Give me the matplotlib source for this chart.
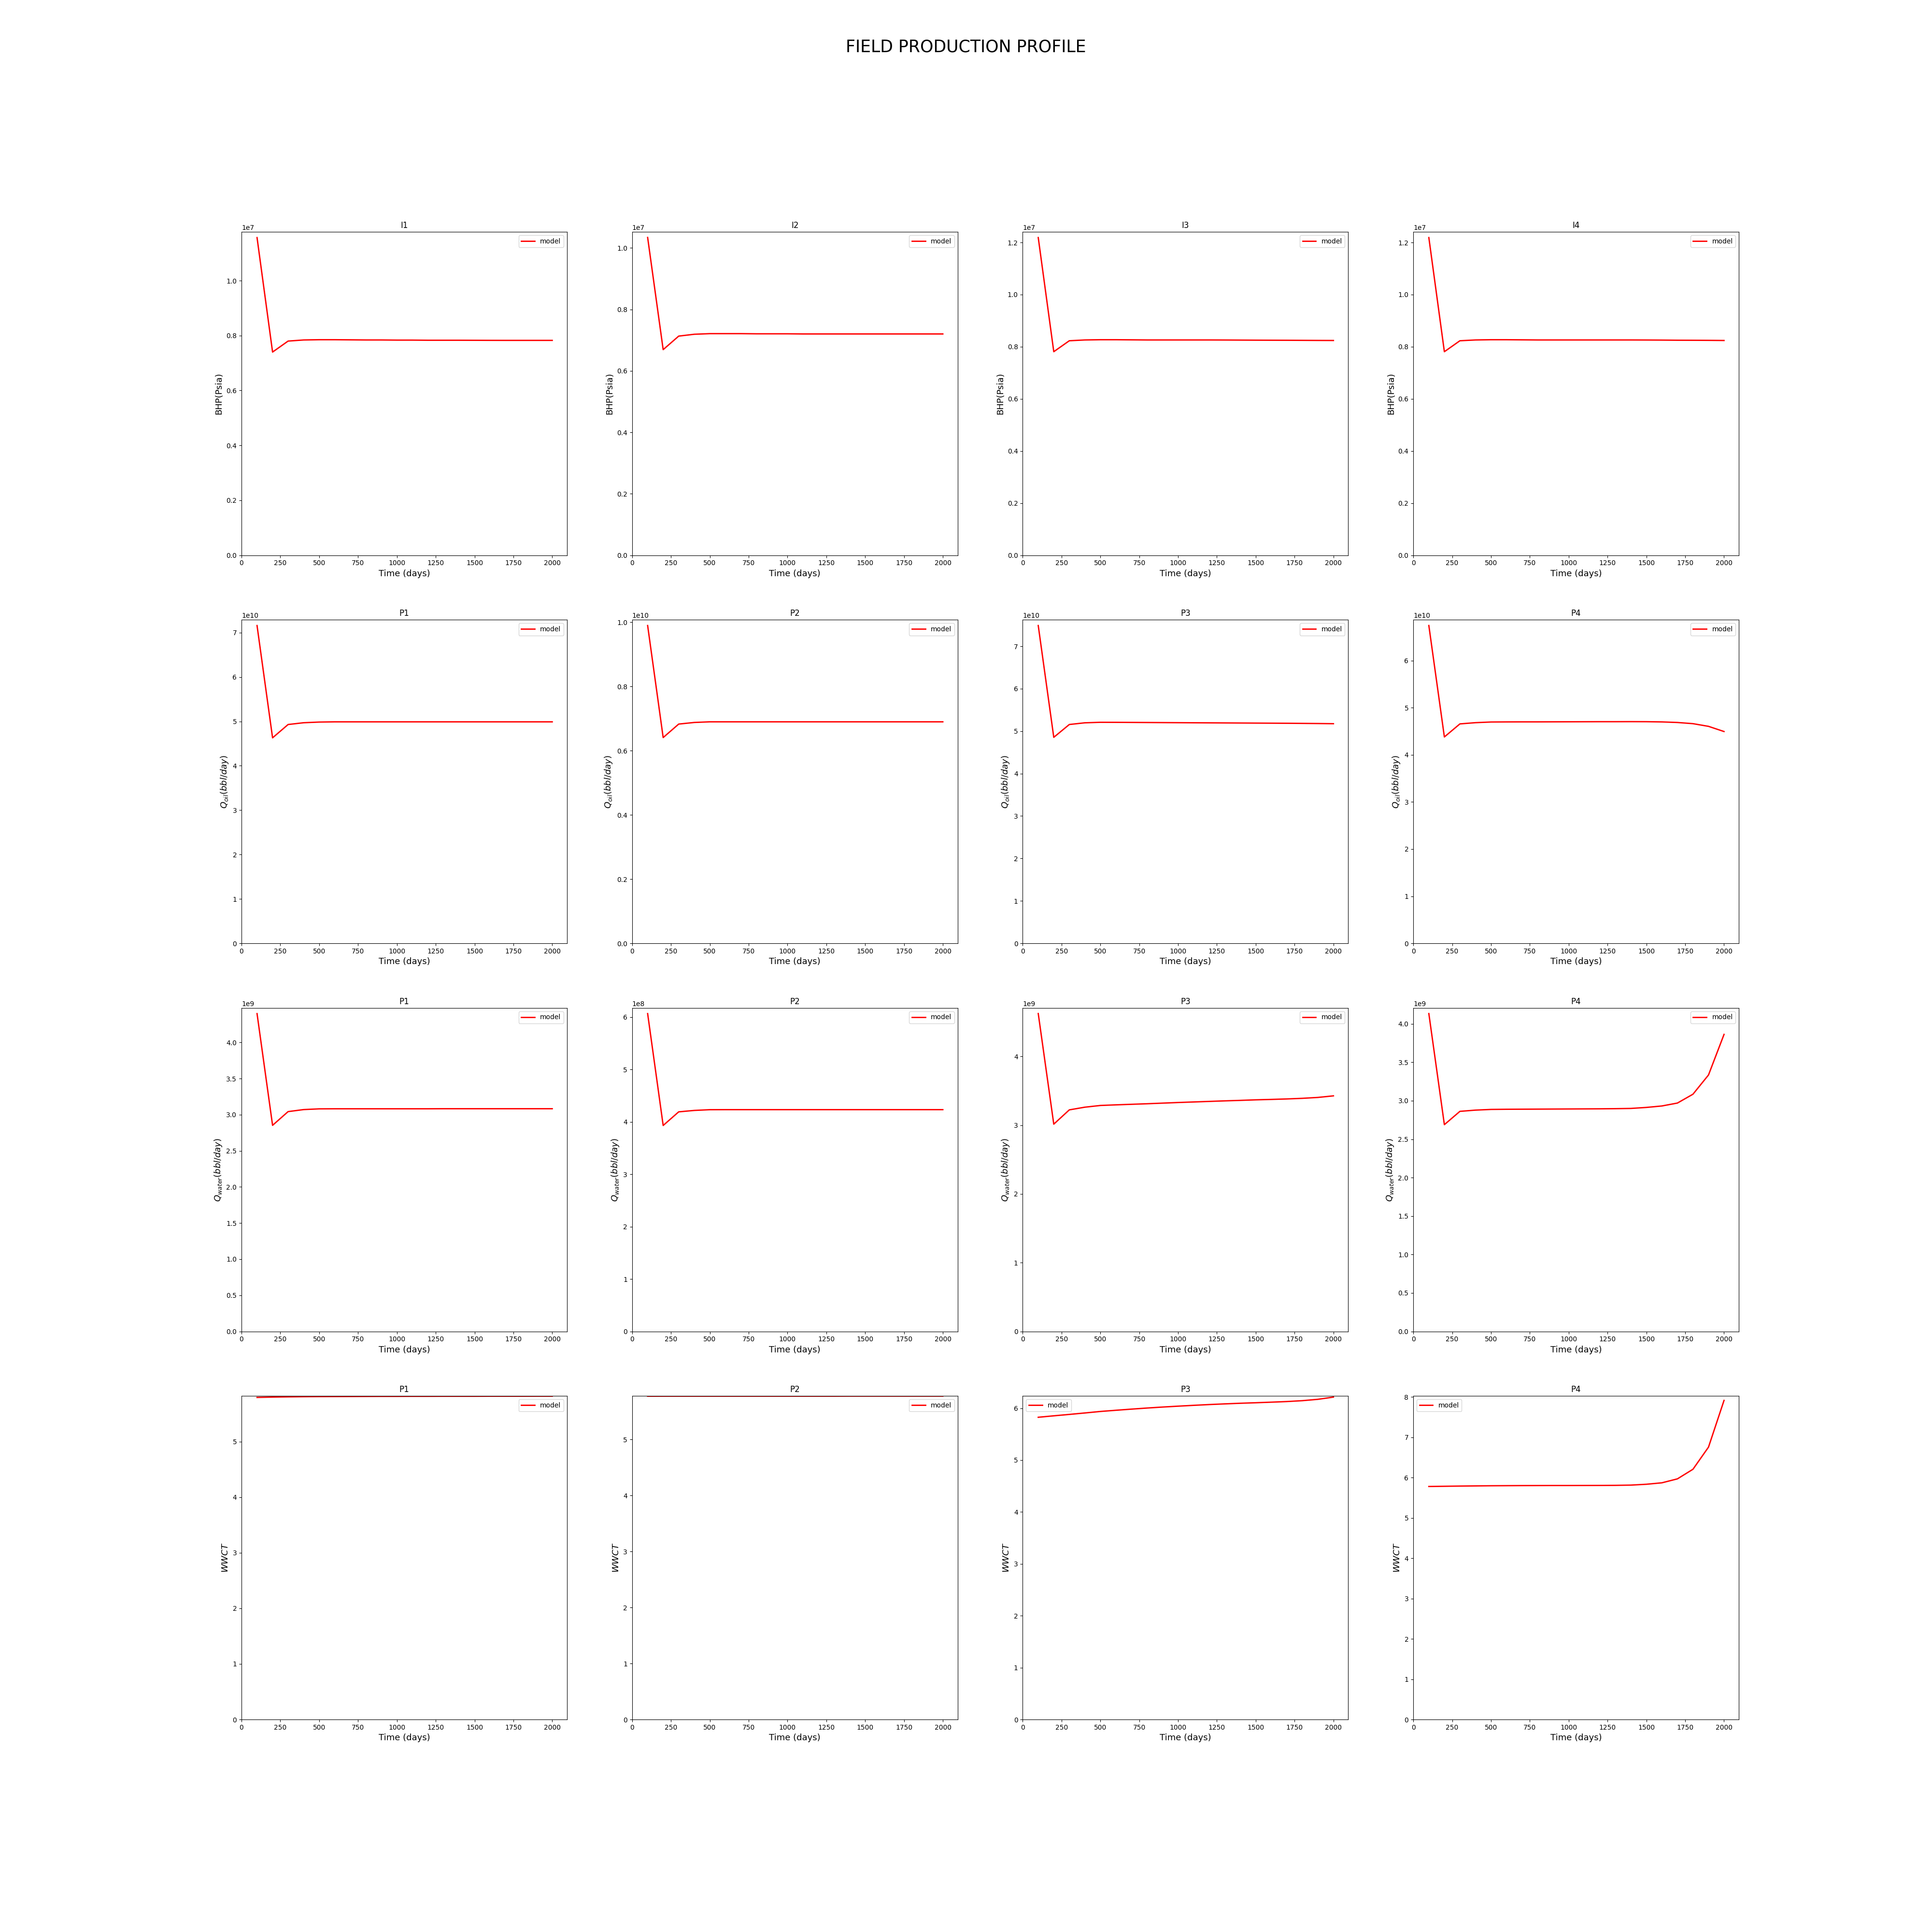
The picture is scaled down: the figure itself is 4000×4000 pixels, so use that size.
import numpy as np
import matplotlib
matplotlib.use('Agg')
import matplotlib.pyplot as plt

# report times (days)
time_days = [100, 200, 300, 400, 500, 600, 700, 800, 900, 1000,
             1100, 1200, 1300, 1400, 1500, 1600, 1700, 1800, 1900, 2000]

# injector bottom-hole pressure, in units of 1e7
bhp_i1 = [1.157, 0.740, 0.780, 0.784, 0.785, 0.785, 0.7845, 0.784, 0.784, 0.7835,
          0.7835, 0.783, 0.783, 0.783, 0.7828, 0.7826, 0.7825, 0.7825, 0.7825, 0.7825]
bhp_i2 = [1.034, 0.669, 0.713, 0.719, 0.721, 0.721, 0.721, 0.7205, 0.7205, 0.7205,
          0.720, 0.720, 0.720, 0.720, 0.720, 0.720, 0.720, 0.720, 0.720, 0.720]
bhp_i3 = [1.219, 0.781, 0.823, 0.826, 0.827, 0.827, 0.8265, 0.826, 0.826, 0.826,
          0.826, 0.826, 0.8258, 0.8255, 0.8252, 0.825, 0.8248, 0.8245, 0.8242, 0.824]
bhp_i4 = [1.219, 0.781, 0.823, 0.826, 0.827, 0.827, 0.8265, 0.826, 0.826, 0.826,
          0.826, 0.826, 0.826, 0.826, 0.8258, 0.8255, 0.825, 0.8248, 0.8245, 0.824]

# producer oil rate, in units of 1e10
qoil_p1 = [7.16, 4.63, 4.93, 4.97, 4.985, 4.99, 4.99, 4.99, 4.99, 4.99,
           4.99, 4.99, 4.99, 4.99, 4.99, 4.99, 4.99, 4.99, 4.99, 4.99]
qoil_p2 = [0.990, 0.641, 0.683, 0.688, 0.690, 0.690, 0.690, 0.690, 0.690, 0.690,
           0.690, 0.690, 0.690, 0.690, 0.690, 0.690, 0.690, 0.690, 0.690, 0.690]
qoil_p3 = [7.49, 4.855, 5.157, 5.197, 5.209, 5.208, 5.206, 5.204, 5.202, 5.200,
           5.198, 5.196, 5.194, 5.192, 5.190, 5.188, 5.186, 5.183, 5.180, 5.176]
qoil_p4 = [6.747, 4.381, 4.658, 4.684, 4.698, 4.700, 4.701, 4.701, 4.702, 4.703,
           4.704, 4.705, 4.705, 4.706, 4.705, 4.700, 4.688, 4.663, 4.606, 4.496]

# producer water rate (P1, P3, P4 in 1e9; P2 in 1e8)
qwat_p1 = [4.40, 2.853, 3.043, 3.071, 3.081, 3.082, 3.082, 3.082, 3.082, 3.082,
           3.082, 3.082, 3.083, 3.083, 3.083, 3.083, 3.083, 3.083, 3.083, 3.083]
qwat_p2 = [6.065, 3.93, 4.19, 4.217, 4.231, 4.232, 4.232, 4.232, 4.232, 4.232,
           4.232, 4.232, 4.232, 4.232, 4.232, 4.232, 4.232, 4.232, 4.232, 4.232]
qwat_p3 = [4.626, 3.016, 3.224, 3.263, 3.288, 3.297, 3.305, 3.313, 3.322, 3.331,
           3.339, 3.347, 3.355, 3.362, 3.370, 3.376, 3.383, 3.392, 3.405, 3.428]
qwat_p4 = [4.134, 2.689, 2.862, 2.878, 2.887, 2.889, 2.890, 2.891, 2.892, 2.893,
           2.894, 2.895, 2.897, 2.900, 2.913, 2.932, 2.970, 3.085, 3.335, 3.863]

# producer water cut
wwct_p1 = [5.794, 5.800, 5.804, 5.807, 5.809, 5.810, 5.811, 5.812, 5.813, 5.813,
           5.814, 5.814, 5.815, 5.815, 5.815, 5.816, 5.816, 5.816, 5.817, 5.817]
wwct_p2 = [5.774, 5.775, 5.775, 5.775, 5.775, 5.775, 5.775, 5.775, 5.775, 5.775,
           5.775, 5.775, 5.775, 5.776, 5.776, 5.776, 5.776, 5.776, 5.776, 5.776]
wwct_p3 = [5.825, 5.853, 5.880, 5.908, 5.937, 5.960, 5.982, 6.003, 6.022, 6.039,
           6.055, 6.070, 6.083, 6.095, 6.105, 6.116, 6.128, 6.145, 6.171, 6.214]
wwct_p4 = [5.778, 5.783, 5.788, 5.792, 5.796, 5.798, 5.800, 5.801, 5.802, 5.802,
           5.803, 5.804, 5.806, 5.812, 5.833, 5.869, 5.967, 6.205, 6.754, 7.913]

well_injectors = ['I1', 'I2', 'I3', 'I4']
well_producers = ['P1', 'P2', 'P3', 'P4']


def plot_panel(axis, values, title, ylabel):
	'''
	Draw one well response curve with the shared styling.
	'''
	axis.plot(time_days, values, color='red', linewidth=2, label='model')
	axis.set_title(title, fontsize=12)
	axis.set_xlabel('Time (days)', fontsize=13)
	axis.set_ylabel(ylabel, fontsize=13)
	axis.set_xlim(left=0)
	axis.set_ylim(bottom=0)
	axis.legend(loc='best')


def main():
	rows = [
		([bhp_i1, bhp_i2, bhp_i3, bhp_i4], [1e7] * 4, well_injectors, 'BHP(Psia)'),
		([qoil_p1, qoil_p2, qoil_p3, qoil_p4], [1e10] * 4, well_producers, r'$Q_{oil}(bbl/day)$'),
		([qwat_p1, qwat_p2, qwat_p3, qwat_p4], [1e9, 1e8, 1e9, 1e9], well_producers, r'$Q_{water}(bbl/day)$'),
		([wwct_p1, wwct_p2, wwct_p3, wwct_p4], [1] * 4, well_producers, r'$WWCT$'),
	]
	figure, axes = plt.subplots(4, 4, figsize=(40, 40))
	for row_index, (series, scales, names, ylabel) in enumerate(rows):
		for col_index in range(4):
			values = np.array(series[col_index]) * scales[col_index]
			plot_panel(axes[row_index, col_index], values, names[col_index], ylabel)
	figure.suptitle('FIELD PRODUCTION PROFILE', fontsize=25)
	figure.savefig('out.png', dpi=100)


if __name__ == '__main__':
	main()
